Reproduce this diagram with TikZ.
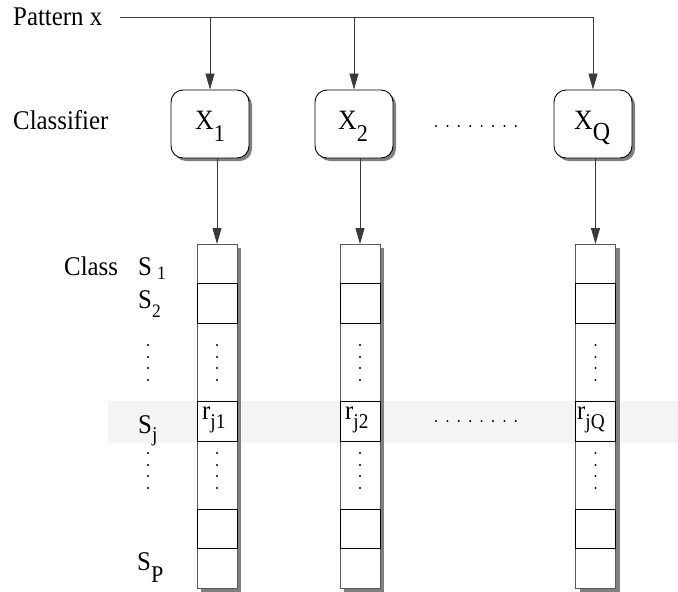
\documentclass[tikz,border=0pt]{standalone}
\usepackage{fontspec}
\setmainfont{Liberation Serif}[FakeStretch=0.92]
\usetikzlibrary{arrows.meta}

\definecolor{linegray}{HTML}{3A3A3A}
\definecolor{shadowgray}{HTML}{808080}
\definecolor{bandgray}{HTML}{F4F4F4}

% lowered index: #1 = drop, #2 = font size, #3 = index text
\newcommand{\lowidx}[3]{\raisebox{-#1}{\fontsize{#2}{#2}\selectfont #3}}

\tikzset{
  lbl/.style={font=\fontsize{27}{27}\selectfont, inner sep=0pt, anchor=base west},
  clsbox/.style={draw=black, line width=0.9pt, fill=white, rounded corners=12pt,
    minimum width=78pt, minimum height=68pt, inner sep=0pt},
  boxtxt/.style={font=\fontsize{28}{28}\selectfont, inner sep=0pt, anchor=base west},
  boxshadow/.style={fill=shadowgray, rounded corners=12pt},
  column/.style={draw=shadowgray!70!black, line width=0.8pt, fill=white,
    minimum width=40pt, minimum height=344pt, inner sep=0pt, anchor=north},
  cell/.style={draw=black, line width=0.8pt, fill=white,
    minimum width=40pt, inner sep=0pt, anchor=north},
  conn/.style={draw=linegray, line width=0.8pt},
  arr/.style={conn, -{Triangle[length=16pt,width=9pt]}},
  dot/.style={fill=black, circle, inner sep=0pt, minimum size=2.2pt},
}

\begin{document}
\begin{tikzpicture}[x=1pt,y=-1pt]
  \useasboundingbox (0,0) rectangle (678,592);

  % highlighted row of class S_j
  \fill[bandgray] (108,401) rectangle (678,443);

  % input label and classifier row label
  \node[lbl] (pat) at (13,25) {Pattern x};
  \node[lbl] (clf) at (13,129) {Classifier};

  % classifier boxes with drop shadows
  \foreach \cx in {210, 354, 593}{
    \fill[boxshadow] (\cx-39+3,90+3) rectangle (\cx+39+3,158+3);
  }
  \node[clsbox] (x1) at (210,124) {};
  \node[clsbox] (x2) at (354,124) {};
  \node[clsbox] (xq) at (593,124) {};
  \node[boxtxt] (x1t) at (195,129) {X\lowidx{12pt}{24}{1}};
  \node[boxtxt] (x2t) at (338,129) {X\lowidx{12pt}{24}{2}};
  \node[boxtxt] (xqt) at (574,129) {X\lowidx{11pt}{26}{Q}};

  % input bus and arrows into the classifiers
  \coordinate (bus) at (120,17);
  \draw[conn] (bus) -- (bus -| xq.north);
  \draw[arr] (x1.north |- bus) -- (x1.north);
  \draw[arr] (x2.north |- bus) -- (x2.north);
  \draw[arr] (xq.north |- bus) -- (xq.north);

  % dots between classifiers
  \foreach \i in {0,...,7}{
    \node[dot] (dtop\i) at (436+11.4*\i,126) {};
  }

  % output columns
  \foreach \n/\cx in {c1/217, c2/360, cq/595.5}{
    \fill[shadowgray] (\cx-20+4,244+4) rectangle (\cx+20+4,588+4);
    \node[column] (\n) at (\cx,244) {};
    \node[cell, minimum height=40pt] (\n s2) at (\cx,283) {};
    \node[cell, minimum height=40pt] (\n sj) at (\cx,401) {};
    \node[cell, minimum height=39pt] (\n sb) at (\cx,509) {};
    \foreach \yy in {345,357,368,380,453,465,476,488}{
      \fill (\cx,\yy) circle (1.1pt);
    }
  }

  % entries r_jk of the highlighted row
  \node[lbl] (r1) at (202,419) {r\lowidx{9pt}{21}{j1}};
  \node[lbl] (r2) at (345,419) {r\lowidx{9pt}{21}{j2}};
  \node[lbl] (rq) at (577,419) {r\lowidx{9pt}{21}{jQ}};

  % dots between columns
  \foreach \i in {0,...,7}{
    \node[dot] (drow\i) at (436+11.4*\i,421) {};
  }

  % classifier outputs into the columns
  \draw[arr] (x1.south -| c1.north) -- (c1.north);
  \draw[arr] (x2.south -| c2.north) -- (c2.north);
  \draw[arr] (xq.south -| cq.north) -- (cq.north);

  % class labels
  \node[lbl] (cls) at (64,275) {Class};
  \node[lbl] (s1) at (138,275) {S\hspace{5pt}\lowidx{4pt}{19}{1}};
  \node[lbl] (s2) at (138,308) {S\lowidx{9pt}{19}{2}};
  \node[lbl] (sj) at (138,433) {S\lowidx{8pt}{21}{j}};
  \node[lbl] (sp) at (137,570) {S\lowidx{12pt}{24}{P}};
  \foreach \yy in {345,357,368,380,453,465,476,488}{
    \fill (148,\yy) circle (1.1pt);
  }
\end{tikzpicture}
\end{document}
